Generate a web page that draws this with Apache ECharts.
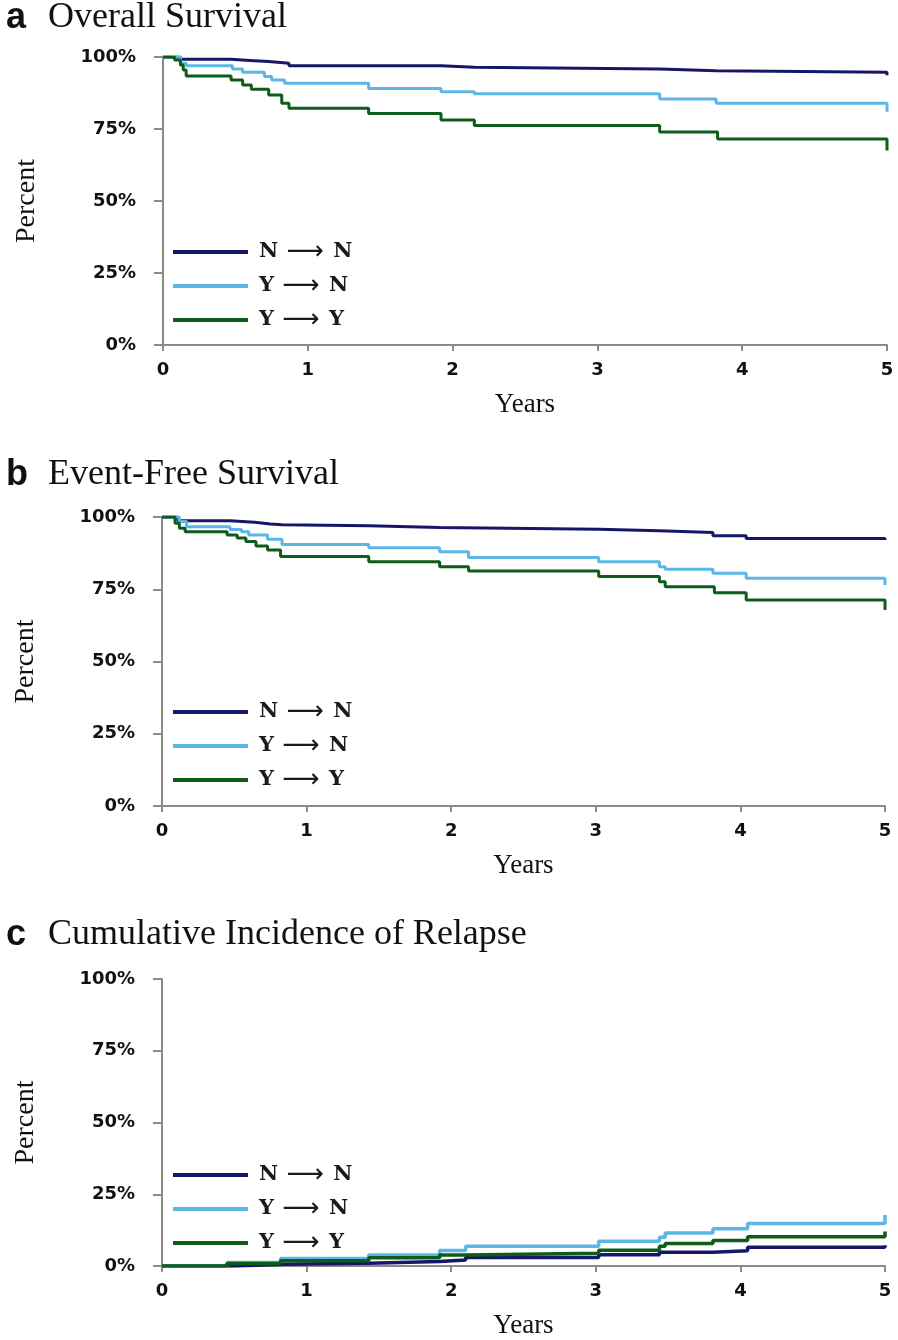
<!DOCTYPE html>
<html>
<head>
<meta charset="utf-8">
<script src="https://cdn.jsdelivr.net/npm/echarts@6/dist/echarts.min.js"></script>
<style>
html,body{margin:0;padding:0;background:#fff;}
#chart{width:898px;height:1340px;}
</style>
</head>
<body>
<div id="chart"></div>
<script>
// ---- Data ----
const seriesNames = ['N → N', 'Y → N', 'Y → Y'];
const panelLetters = ['a', 'b', 'c'];
const panelTitles = ['Overall Survival', 'Event-Free Survival', 'Cumulative Incidence of Relapse'];
const xTicks = [0, 1, 2, 3, 4, 5];
const yTicks = [0, 25, 50, 75, 100];

// Panel a: Overall Survival (years, percent)
const osNN = [[0,100],[0.12,99.2],[0.47,98.8],[0.6,98.4],[0.73,97.8],[0.87,97.0],[1.92,96.4],[2.15,95.8],[3.43,95.2],[3.82,94.7],[5,94.7],[5,93.7]];
const osYN = [[0,100],[0.12,97.8],[0.16,97.0],[0.48,95.8],[0.55,94.7],[0.70,93.2],[0.75,92.0],[0.84,90.9],[1.42,89.1],[1.92,87.9],[2.15,87.2],[3.43,85.4],[3.82,83.9],[5,83.9],[5,81.0]];
const osYY = [[0,100],[0.08,99.0],[0.12,97.2],[0.14,95.5],[0.16,93.4],[0.47,92.0],[0.55,90.3],[0.61,88.8],[0.73,86.8],[0.82,83.9],[0.87,82.2],[1.42,80.4],[1.92,78.1],[2.15,76.2],[3.43,74.0],[3.83,71.5],[5,71.5],[5,67.5]];

// Panel b: Event-Free Survival
const efsNN = [[0,100],[0.11,98.7],[0.47,98.2],[0.64,97.6],[0.75,97.3],[0.83,97.0],[1.43,96.4],[1.92,95.8],[3.02,95.2],[3.44,94.6],[3.81,93.5],[4.04,92.6],[5,92.6],[5,92.0]];
const efsYN = [[0,100],[0.12,98.4],[0.17,96.6],[0.47,95.7],[0.55,94.9],[0.6,93.8],[0.73,92.3],[0.83,90.5],[1.43,89.4],[1.92,88.0],[2.12,86.0],[3.02,84.5],[3.44,82.8],[3.48,81.9],[3.81,80.5],[4.04,78.8],[5,78.8],[5,76.5]];
const efsYY = [[0,100],[0.09,97.8],[0.12,96.1],[0.16,94.9],[0.45,93.8],[0.52,92.7],[0.58,91.5],[0.65,90.0],[0.73,88.6],[0.82,86.3],[1.43,84.5],[1.92,82.8],[2.12,81.3],[3.02,79.4],[3.44,77.6],[3.48,75.9],[3.82,73.8],[4.04,71.3],[5,71.3],[5,67.8]];

// Panel c: Cumulative Incidence of Relapse
const cirNN = [[0,0],[0.5,0.6],[0.84,1.0],[1.43,1.6],[1.92,2.1],[2.1,3.0],[3.02,3.9],[3.44,4.8],[3.81,5.3],[4.05,6.5],[5,6.5],[5,7.2]];
const cirYN = [[0,0],[0.45,1.2],[0.82,2.6],[1.43,3.8],[1.92,5.4],[2.1,6.9],[3.02,8.6],[3.44,10.0],[3.48,11.5],[3.81,13.0],[4.05,14.8],[5,14.8],[5,17.8]];
const cirYY = [[0,0],[0.45,0.9],[0.82,1.8],[1.43,2.9],[1.92,3.8],[2.1,4.4],[3.02,5.5],[3.44,6.9],[3.48,7.8],[3.81,8.9],[4.05,10.2],[5,10.2],[5,12.0]];

const panelData = [[osNN, osYN, osYY], [efsNN, efsYN, efsYY], [cirNN, cirYN, cirYY]];

// ---- Styling / layout ----
const colors = ['#17176a', '#5cb6e6', '#0d5c18'];
const grids = [
  {left: 163, right: 11, top: 57, height: 288},
  {left: 162, right: 13, top: 517, height: 289},
  {left: 162, right: 13, top: 979, height: 288}
];
const titleTops = [0, 457, 917];
const legendTops = [239, 699, 1162];
const lineWidths = [3, 3, 3.5];
const axisColor = '#8a8a8a';

const option = {
  backgroundColor: '#fff',
  animation: false,
  title: [],
  legend: [],
  grid: grids,
  xAxis: [],
  yAxis: [],
  series: []
};

for (let p = 0; p < 3; p++) {
  option.title.push({
    text: panelLetters[p], left: 6, top: titleTops[p], padding: 0,
    textStyle: {fontFamily: 'Liberation Sans', fontWeight: 'bold', fontSize: 36, color: '#111'}
  });
  option.title.push({
    text: panelTitles[p], left: 48, top: titleTops[p], padding: 0,
    textStyle: {fontFamily: 'Liberation Serif', fontWeight: 'normal', fontSize: 36, color: '#111'}
  });
  option.legend.push({
    data: seriesNames, orient: 'vertical', left: 173, top: legendTops[p],
    icon: 'rect', itemWidth: 75, itemHeight: 4, itemGap: 8, selectedMode: false, padding: 0,
    formatter: function (name) {
      const parts = name.split(' → ');
      return '{l|' + parts[0] + '} {a|⟶} {l|' + parts[1] + '}';
    },
    textStyle: {
      lineHeight: 23,
      rich: {
        l: {fontFamily: 'DejaVu Serif', fontWeight: 'bold', fontSize: 21, color: '#1a1a1a', lineHeight: 23, padding: [0, 5, 0, 6]},
        a: {fontFamily: 'DejaVu Sans', fontSize: 26, color: '#1a1a1a', lineHeight: 23}
      }
    }
  });
  option.xAxis.push({
    type: 'value', gridIndex: p, min: 0, max: 5, interval: 1,
    name: 'Years', nameLocation: 'middle', nameGap: 46,
    nameTextStyle: {fontFamily: 'Liberation Serif', fontSize: 27, color: '#111'},
    axisLine: {show: true, lineStyle: {color: axisColor, width: 2}},
    axisTick: {show: true, length: 6, lineStyle: {color: axisColor, width: 2}},
    axisLabel: {
      margin: 16, fontFamily: 'DejaVu Sans', fontWeight: 'bold', fontSize: 18, color: '#111',
      formatter: function (v) { return xTicks.indexOf(v) >= 0 ? String(v) : ''; }
    },
    splitLine: {show: false}
  });
  option.yAxis.push({
    type: 'value', gridIndex: p, min: 0, max: 100, interval: 25,
    name: 'Percent', nameLocation: 'middle', nameGap: 122,
    nameTextStyle: {fontFamily: 'Liberation Serif', fontSize: 28, color: '#111'},
    axisLine: {show: true, lineStyle: {color: axisColor, width: 2}},
    axisTick: {show: true, length: 9, lineStyle: {color: axisColor, width: 2}},
    axisLabel: {
      margin: 27, fontFamily: 'DejaVu Sans', fontWeight: 'bold', fontSize: 18, color: '#111',
      formatter: function (v) { return yTicks.indexOf(v) >= 0 ? v + '%' : ''; }
    },
    splitLine: {show: false}
  });
  for (let s = 0; s < 3; s++) {
    option.series.push({
      name: seriesNames[s], type: 'line', step: 'end',
      xAxisIndex: p, yAxisIndex: p,
      data: panelData[p][s],
      showSymbol: false, symbol: 'none',
      color: colors[s],
      lineStyle: {color: colors[s], width: lineWidths[p]},
      z: 3
    });
  }
}

const chart = echarts.init(document.getElementById('chart'), null, {renderer: 'canvas'});
chart.setOption(option);
</script>
</body>
</html>
